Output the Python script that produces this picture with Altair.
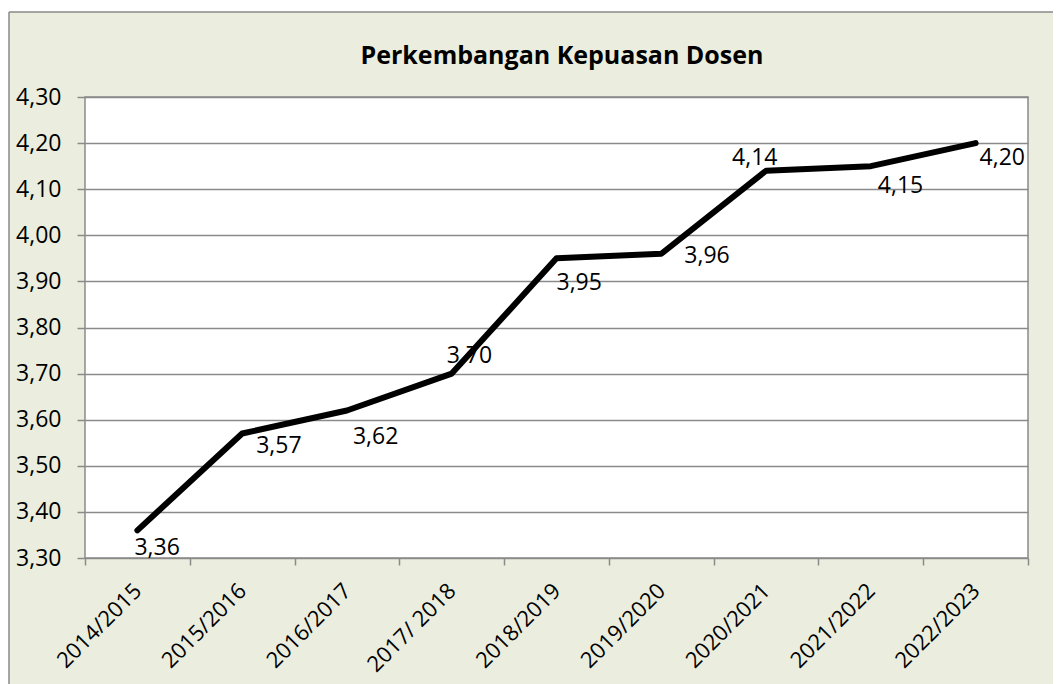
import altair as alt
import pandas as pd

categories = ["2014/2015", "2015/2016", "2016/2017", "2017/ 2018", "2018/2019",
              "2019/2020", "2020/2021", "2021/2022", "2022/2023"]
values = [3.36, 3.57, 3.62, 3.70, 3.95, 3.96, 4.14, 4.15, 4.20]
y_ticks = [3.30, 3.40, 3.50, 3.60, 3.70, 3.80, 3.90, 4.00, 4.10, 4.20, 4.30]
title_text = "Perkembangan Kepuasan Dosen"

# ---- styling / layout ----
W, H = 943, 461
BG = "#EBEEDE"
GRID = "#8a8a8a"
FONT = "Open Sans"
FS = 23
PAD = {"left": 77, "top": 89, "right": 25, "bottom": 126}
# label offsets (dx, dy) from each point, as placed in the original
label_offsets = {
    "2014/2015": (-3, 25),
    "2015/2016": (14, 19),
    "2016/2017": (6, 34),
    "2017/ 2018": (-5, -11),
    "2018/2019": (0, 32),
    "2019/2020": (23, 9),
    "2020/2021": (-34, -6),
    "2021/2022": (7, 27),
    "2022/2023": (4, 22),
}

df = pd.DataFrame({
    "cat": categories,
    "val": values,
    "label": [f"{v:.2f}".replace(".", ",") for v in values],
})

x_enc = alt.X(
    "cat:N", sort=categories, bandPosition=0.5,
    scale=alt.Scale(type="band", paddingInner=0, paddingOuter=0),
    axis=alt.Axis(
        title=None, tickBand="extent", labelAngle=-45, labelAlign="right",
        labelBaseline="middle", labelFont=FONT, labelFontSize=22,
        labelColor="black", tickColor=GRID, tickSize=7, tickWidth=1.5,
        gridColor=GRID, gridWidth=1.5, domain=False, labelPadding=22,
    ),
)
y_enc = alt.Y(
    "val:Q",
    scale=alt.Scale(domain=[y_ticks[0], y_ticks[-1]], nice=False, zero=False),
    axis=alt.Axis(
        title=None, values=y_ticks,
        labelExpr="replace(format(datum.value, '.2f'), '.', ',')",
        labelFont=FONT, labelFontSize=FS, labelColor="black",
        tickColor=GRID, tickSize=8, tickWidth=1.5,
        gridColor=GRID, gridWidth=1.5, domain=False, labelPadding=16,
    ),
)

base = alt.Chart(df)

line = base.mark_line(color="black", strokeWidth=6, strokeCap="round",
                      strokeJoin="round").encode(x=x_enc, y=y_enc)

texts = []
for cat in categories:
    dx, dy = label_offsets[cat]
    texts.append(
        base.transform_filter(alt.datum.cat == cat)
        .mark_text(align="left", baseline="alphabetic", dx=dx, dy=dy,
                   font=FONT, fontSize=FS, color="black")
        .encode(x=x_enc, y=y_enc, text="label:N")
    )

one = pd.DataFrame({"t": [title_text]})
top_strip = alt.Chart(one).mark_rect(fill="white").encode(
    x=alt.value(-200), x2=alt.value(W + 200), y=alt.value(-200), y2=alt.value(-85))
left_strip = alt.Chart(one).mark_rect(fill="white").encode(
    x=alt.value(-200), x2=alt.value(-76), y=alt.value(-200), y2=alt.value(H + 200))
top_border = alt.Chart(one).mark_rule(color=GRID, strokeWidth=1.5).encode(
    x=alt.value(-76), x2=alt.value(W + 200), y=alt.value(-85))
left_border = alt.Chart(one).mark_rule(color=GRID, strokeWidth=1.5).encode(
    x=alt.value(-76), y=alt.value(-85), y2=alt.value(H + 200))
title = alt.Chart(one).mark_text(
    align="center", baseline="alphabetic", font=FONT, fontSize=25,
    fontWeight="bold", color="black",
).encode(x=alt.value(477), y=alt.value(-33), text="t:N")

chart = alt.layer(
    top_strip, left_strip, top_border, left_border, title, line, *texts
).properties(
    width=W, height=H, padding=PAD, autosize="none", background=BG,
).configure_view(fill="white", stroke=GRID, strokeWidth=1.5)

chart.save("out.html", embed_options={"renderer": "svg", "actions": False})
